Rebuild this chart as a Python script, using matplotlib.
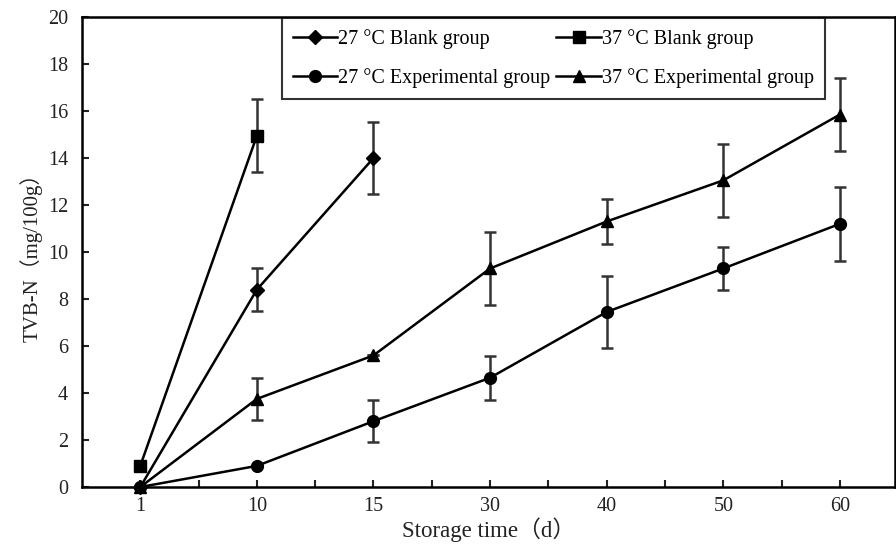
import numpy as np
import matplotlib
matplotlib.use('Agg')
import matplotlib.pyplot as plt
from matplotlib.ticker import FixedLocator, NullFormatter

plt.rcParams['font.family'] = ['Liberation Serif', 'Noto Sans CJK SC']

days = ['1', '10', '15', '30', '40', '50', '60']

# 27 C blank group (diamonds)
blank27 = [0.0, 8.4, 14.0]
blank27_err = [0.0, 0.9, 1.55]
# 37 C blank group (squares)
blank37 = [0.9, 14.95]
blank37_err = [0.0, 1.55]
# 27 C experimental group (circles)
exp27 = [0.0, 0.9, 2.8, 4.65, 7.45, 9.3, 11.2]
exp27_err = [0.0, 0.0, 0.9, 0.93, 1.55, 0.93, 1.58]
# 37 C experimental group (triangles)
exp37 = [0.0, 3.75, 5.6, 9.3, 11.3, 13.05, 15.85]
exp37_err = [0.0, 0.9, 0.0, 1.55, 0.95, 1.55, 1.55]

fig = plt.figure(figsize=(8.96, 5.5), dpi=100)
ax = fig.add_axes([0.0915, 0.1145, 0.907, 0.8545])

series = [
    (blank27, blank27_err, 'D', 7, '27 °C Blank group'),
    (blank37, blank37_err, 's', 8.5, '37 °C Blank group'),
    (exp27, exp27_err, 'o', 8.5, '27 °C Experimental group'),
    (exp37, exp37_err, '^', 8.5, '37 °C Experimental group'),
]

handles = []
for vals, errs, mk, ms, label in series:
    x = np.arange(len(vals))
    ax.errorbar(x, vals, yerr=errs, fmt='none', ecolor='#333333',
                elinewidth=1.8, capsize=4.5, capthick=1.8, zorder=2)
    h, = ax.plot(x, vals, color='black', lw=1.8, marker=mk, ms=ms,
                 label=label, zorder=3, clip_on=False)
    handles.append(h)

ax.set_xlim(-0.5, 6.47)
ax.set_ylim(0, 20)
ax.set_xticks(np.arange(len(days)))
ax.set_xticklabels(days)
ax.xaxis.set_minor_locator(FixedLocator(np.arange(0.5, 6.0, 0.5)))
ax.xaxis.set_minor_formatter(NullFormatter())
ax.set_yticks(np.arange(0, 21, 2))

ax.tick_params(axis='both', which='both', direction='in', length=5,
               width=1.5, labelsize=14.5, colors='#222222')
ax.tick_params(axis='x', pad=7)
ax.tick_params(axis='y', pad=10)
for s in ax.spines.values():
    s.set_linewidth(1.8)

ax.set_xlabel('Storage time（d）', fontsize=16.5, labelpad=1, color='#222222')
ax.set_ylabel('TVB-N（mg/100g）', fontsize=15, labelpad=4, color='#222222')

# row-major order as in the reference legend
order = [0, 2, 1, 3]
leg = ax.legend([handles[i] for i in order], [series[i][4] for i in order],
                loc='upper left', bbox_to_anchor=(0.246, 0.998), ncol=2,
                fontsize=14.5, frameon=True, fancybox=False, edgecolor='black',
                handlelength=2.2, handletextpad=0.05, columnspacing=0.3,
                borderaxespad=0, borderpad=0.55, labelspacing=0.95)
leg.get_frame().set_linewidth(1.5)

fig.savefig('out.png', dpi=100)
